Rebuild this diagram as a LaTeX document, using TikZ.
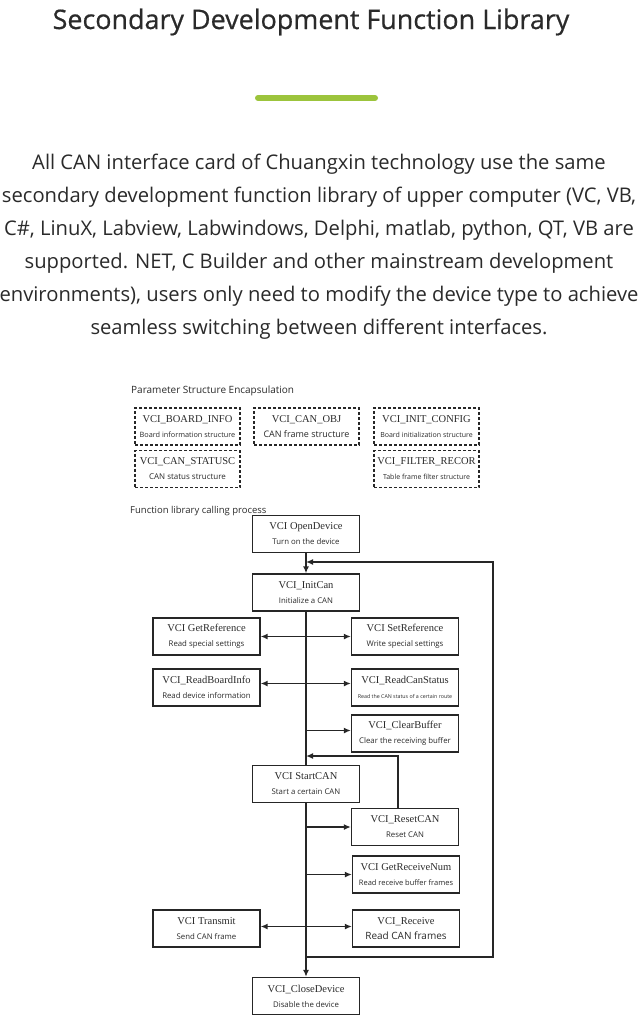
\documentclass[tikz,border=0pt]{standalone}
\usepackage{fontspec}
\setmainfont{Open Sans}
\newfontfamily\vciserif{Liberation Serif}
\newfontfamily\titlefont{Open Sans}[FakeBold=0.6]
\usetikzlibrary{positioning}
\usetikzlibrary{arrows.meta}

\definecolor{txtgray}{HTML}{2A2A2A}
\definecolor{bargreen}{HTML}{9CC43C}

\tikzset{
  fnbox/.style={draw=black!85, line width=1.3pt, minimum width=107pt, minimum height=37pt,
    inner sep=0pt, align=center, fill=white},
  stbox/.style={fnbox, minimum width=105pt, densely dashed},
  link/.style={draw=black!85, line width=1.5pt},
  onearr/.style={link, -{Latex[length=7pt,width=6pt]}},
  twoarr/.style={link, {Latex[length=7pt,width=6pt]}-{Latex[length=7pt,width=6pt]}},
  heading/.style={anchor=base west, inner sep=0pt, text=txtgray, font=\fontsize{10}{12}\selectfont},
}
% box text: function name and its meaning
\newcommand{\vci}[3][7.8]{{\fontsize{10.5}{12}\vciserif #2}\\[3pt]{\fontsize{#1}{9}\selectfont #3}}

\begin{document}
\begin{tikzpicture}[x=1pt, y=-1pt, text=txtgray]
    \useasboundingbox (0,0) rectangle (640,1020);

    \node[anchor=base, inner sep=0pt, font=\fontsize{26.9}{30}\titlefont] (title) at (311,29)
        {Secondary Development Function Library};
    \draw[bargreen, line width=6pt, line cap=round] (258,98) -- (375,98);

    \foreach \ln [count=\i] in {
        {All CAN interface card of Chuangxin technology use the same},
        {secondary development function library of upper computer (VC, VB,},
        {C\#, LinuX, Labview, Labwindows, Delphi, matlab, python, QT, VB are},
        {supported. NET, C Builder and other mainstream development},
        {environments), users only need to modify the device type to achieve},
        {seamless switching between different interfaces.}}
        \node[anchor=base, inner sep=0pt, font=\fontsize{20.2}{24}\selectfont] (par\i) at (319,136+33*\i) {\ln};

    % parameter structures
    \node[heading] (parhead) at (131,393) {Parameter Structure Encapsulation};
    \node[stbox] (boardinfo) at (187.5,426.5) {\vci[7.3]{VCI\_BOARD\_INFO}{Board information structure}};
    \node[stbox] (canobj) at (306.5,426.5) {\vci[9]{VCI\_CAN\_OBJ}{CAN frame structure}};
    \node[stbox] (initcfg) at (426.5,426.5) {\vci[7]{VCI\_INIT\_CONFIG}{Board initialization structure}};
    \node[stbox] (canstatus) at (187.5,469) {\vci[8]{VCI\_CAN\_STATUSC}{CAN status structure}};
    \node[stbox] (filterrec) at (426.5,469) {\vci[7]{VCI\_FILTER\_RECOR}{Table frame filter structure}};

    % calling process
    \node[heading, font=\fontsize{9.5}{11}\selectfont] (callhead) at (130,513) {Function library calling process};
    \node[fnbox] (open) at (306,534) {\vci{VCI OpenDevice}{Turn on the device}};
    \node[fnbox] (init) at (306,592.5) {\vci{VCI\_InitCan}{Initialize a CAN}};
    \node[fnbox] (getref) at (206.5,636.5) {\vci{VCI GetReference}{Read special settings}};
    \node[fnbox] (setref) at (405,636.5) {\vci{VCI SetReference}{Write special settings}};
    \node[fnbox] (readinfo) at (206.5,687.5) {\vci{VCI\_ReadBoardInfo}{Read device information}};
    \node[fnbox] (readstat) at (405,687.5) {\vci[5.3]{VCI\_ReadCanStatus}{Read the CAN status of a certain route}};
    \node[fnbox] (clear) at (405,733.5) {\vci{VCI\_ClearBuffer}{Clear the receiving buffer}};
    \node[fnbox] (start) at (306,784) {\vci{VCI StartCAN}{Start a certain CAN}};
    \node[fnbox] (reset) at (405,827) {\vci{VCI\_ResetCAN}{Reset CAN}};
    \node[fnbox] (getnum) at (406,874.5) {\vci[7.5]{VCI GetReceiveNum}{Read receive buffer frames}};
    \node[fnbox] (transmit) at (206.5,928.5) {\vci{VCI Transmit}{Send CAN frame}};
    \node[fnbox] (receive) at (406,928.5) {\vci[10]{VCI\_Receive}{Read CAN frames}};
    \node[fnbox] (close) at (306,996) {\vci{VCI\_CloseDevice}{Disable the device}};

    \coordinate (loopin) at (306,562);
    \coordinate (resetin) at (306,756);
    \coordinate (loopout) at (306,957);

    \draw[onearr] (open) -- (init);
    \draw[link] (init) -- (start);
    \draw[onearr] (start) -- (close);

    \draw[twoarr] (getref) -- (setref);
    \draw[twoarr] ([yshift=4pt]readinfo.east) -- ([yshift=4pt]readstat.west);
    \draw[twoarr] ([yshift=2pt]transmit.east) -- ([yshift=2pt]receive.west);

    \draw[onearr] (init.south |- clear.west) ++(0,-3) -- ([yshift=3pt]clear.west);
    \draw[onearr] (init.south |- reset.west) -- (reset.west);
    \draw[onearr] (init.south |- getnum.west) -- (getnum.west);

    \draw[onearr] ([xshift=-7pt]reset.north) |- (resetin);
    \draw[onearr] (loopout) -- ++(187,0) |- (loopin);
\end{tikzpicture}
\end{document}
